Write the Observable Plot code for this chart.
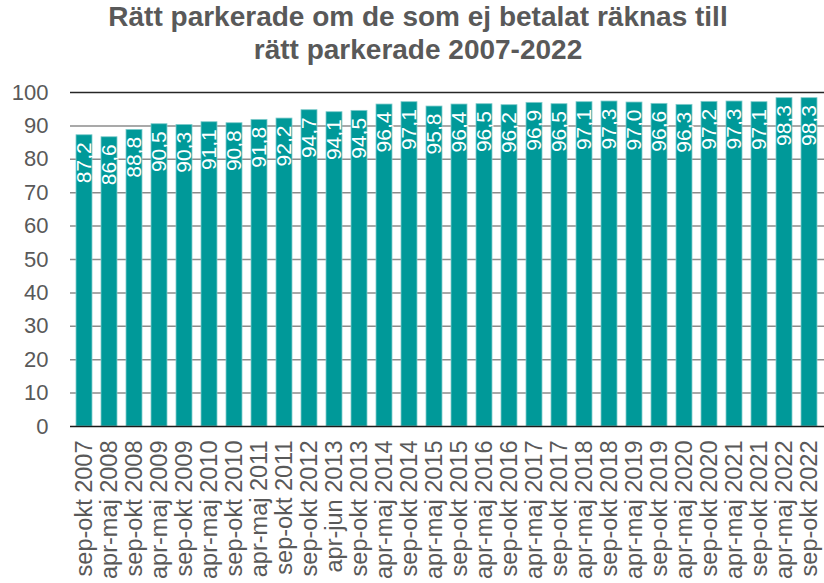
<!DOCTYPE html>
<html>
<head>
<meta charset="utf-8">
<script src="https://cdn.jsdelivr.net/npm/d3@7"></script>
<script src="https://cdn.jsdelivr.net/npm/@observablehq/plot@0.6"></script>
<style>
  html, body { margin: 0; padding: 0; background: #fff; }
  #wrap { position: relative; width: 824px; height: 583px; overflow: hidden; }
  #title { position: absolute; left: 0; top: 0px; width: 836px; text-align: center;
    font-family: "Liberation Sans", Arial, sans-serif; font-weight: bold; font-size: 28px;
    line-height: 33px; color: #595959; }
  #chart { position: absolute; left: 0; top: 0; }
</style>
</head>
<body>
<div id="wrap">
  <div id="chart"></div>
  <div id="title">Rätt parkerade om de som ej betalat räknas till<br>rätt parkerade 2007-2022</div>
</div>
<script>
const periods = [
  "sep-okt 2007","apr-maj 2008","sep-okt 2008","apr-maj 2009","sep-okt 2009",
  "apr-maj 2010","sep-okt 2010","apr-maj 2011","sep-okt 2011","sep-okt 2012",
  "apr-jun 2013","sep-okt 2013","apr-maj 2014","sep-okt 2014","apr-maj 2015",
  "sep-okt 2015","apr-maj 2016","sep-okt 2016","apr-maj 2017","sep-okt 2017",
  "apr-maj 2018","sep-okt 2018","apr-maj 2019","sep-okt 2019","apr-maj 2020",
  "sep-okt 2020","apr-maj 2021","sep-okt 2021","apr-maj 2022","sep-okt 2022"
];
const values = [
  87.2, 86.6, 88.8, 90.5, 90.3, 91.1, 90.8, 91.8, 92.2, 94.7,
  94.1, 94.5, 96.4, 97.1, 95.8, 96.4, 96.5, 96.2, 96.9, 96.5,
  97.1, 97.3, 97.0, 96.6, 96.3, 97.2, 97.3, 97.1, 98.3, 98.3
];
const yTicks = [0, 10, 20, 30, 40, 50, 60, 70, 80, 90, 100];

const data = periods.map((p, i) => ({period: p, value: values[i]}));
const fmt = v => v.toFixed(1).replace(".", ",");

const chart = Plot.plot({
  width: 824,
  height: 583,
  marginTop: 92,
  marginBottom: 157,
  marginLeft: 70,
  marginRight: 0,
  style: {fontFamily: "'Liberation Sans', Arial, sans-serif", background: "white"},
  x: {domain: periods, paddingInner: 0.34, paddingOuter: 0.16, label: null},
  y: {domain: [0, 100], label: null},
  marks: [
    Plot.ruleY(yTicks.filter(t => t > 0 && t < 100), {stroke: "#8c8c8c", strokeWidth: 1.5}),
    Plot.ruleY([100], {stroke: "#262626", strokeWidth: 1.5}),
    Plot.barY(data, {x: "period", y: "value", fill: "#009999", stroke: "#80cccc", strokeWidth: 0.8}),
    Plot.ruleY([0], {stroke: "#1a1a1a", strokeWidth: 1.5}),
    Plot.text(data, {x: "period", y: "value", text: d => fmt(d.value), rotate: -90,
      textAnchor: "end", dy: 7, fill: "white", fontSize: 21}),
    Plot.axisY(yTicks, {tickSize: 0, tickPadding: 22, fontSize: 22, fill: "#595959", label: null}),
    Plot.axisX({tickSize: 0, tickPadding: 14, tickRotate: -90, fontSize: 23.5, fill: "#595959", label: null})
  ]
});
document.getElementById("chart").appendChild(chart);
</script>
</body>
</html>
